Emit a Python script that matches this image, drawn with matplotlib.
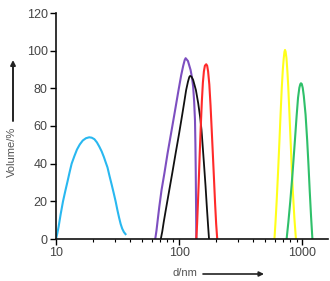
import matplotlib
matplotlib.use('Agg')
import matplotlib.pyplot as plt
from matplotlib.ticker import LogLocator, NullFormatter, FixedLocator

plt.rcParams['font.family'] = ['Liberation Sans', 'DejaVu Sans']

# size distributions: diameter (nm), volume (%)
blue_d = [10, 10.25, 10.5, 10.9, 11.4, 11.9, 12.4, 12.9, 13.4, 14.1, 14.8, 15.6, 16.5, 17.5,
          18.6, 19.5, 20.5, 21.5, 22.5, 23.5, 24.5, 25.4, 26.2, 27.2, 28.3, 29.4, 30.5,
          31.5, 32.5, 33.5, 34.5, 35.6, 36.7]
blue_v = [0, 3, 6.5, 13, 20, 25.5, 30.5, 35.5, 40, 44, 47.5, 50.2, 52.3, 53.5,
          54, 53.8, 53, 51.3, 49, 46.5, 43.5, 40.5, 38, 33.5, 29, 24.5, 20,
          15.5, 11.5, 8, 5.5, 3.7, 2.6]

purple_d = [64, 65.5, 67, 69, 72, 76, 80.6, 86, 92, 98.6, 104, 108, 111, 113, 118, 124, 127,
            130, 132.5, 134.6, 135.7, 136.5, 137.3, 138]
purple_v = [0, 4.5, 10, 17, 26, 35, 45.5, 56, 67, 78.5, 87, 92, 95, 96, 94.5, 89.7, 86,
            81, 73, 63, 50, 36.6, 18, 0]

black_d = [71, 73, 75, 78, 82, 88, 94, 100, 106, 110, 114, 118, 121, 123, 126, 130, 137, 143,
           148, 152, 156, 160, 164, 168, 172, 175]
black_v = [0, 4, 9, 15.5, 23.6, 35, 46, 56, 66, 72.5, 79, 83.5, 86, 86.6, 86.2, 84.5, 79, 72,
           65, 58, 48, 38, 28, 17, 7, 0]

red_d = [138, 140, 142, 144.5, 147, 150, 153, 156, 159, 162, 166, 169, 172, 176, 180, 184,
         188, 192, 196, 200, 204]
red_v = [0, 8, 18, 31, 45, 60, 73, 83, 89, 92, 92.8, 92, 89, 82, 71, 58,
         45, 32, 19, 8, 0]

yellow_d = [595, 607, 620, 636, 653, 668, 682, 696, 708, 717, 725, 733, 745, 758, 770, 787,
            805, 822, 840, 864, 889]
yellow_v = [0, 9, 20, 35, 52, 67, 80, 90, 96, 99.3, 100.4, 99.5, 96, 89, 81, 67,
            52, 38, 25, 11, 0]

green_d = [747, 772, 800, 835, 873, 900, 925, 948, 965, 977, 992, 1010, 1030, 1065, 1097,
           1125, 1150, 1180, 1210]
green_v = [0, 9, 20, 35, 52.6, 65, 75, 80.3, 82.2, 82.7, 82.3, 80.2, 76, 66, 52.6,
           39, 26, 12, 0]

y_ticks = [0, 20, 40, 60, 80, 100, 120]
x_ticks = [10, 100, 1000]

fig = plt.figure(figsize=(3.30, 2.81), dpi=100)
ax = fig.add_axes([56 / 330, 42 / 281, 272 / 330, 226 / 281])

lw = 1.5
ax.plot(blue_d, blue_v, color='#29b8f0', lw=lw)
ax.plot(purple_d, purple_v, color='#7d4fc0', lw=lw)
ax.plot(black_d, black_v, color='#111111', lw=1.3)
ax.plot(red_d, red_v, color='#ff2a2a', lw=lw)
ax.plot(yellow_d, yellow_v, color='#ffff1a', lw=lw)
ax.plot(green_d, green_v, color='#2fc06a', lw=lw)

ax.set_xscale('log')
ax.set_xlim(10, 1620)
ax.set_ylim(0, 120)
ax.xaxis.set_major_locator(FixedLocator(x_ticks))
ax.set_xticklabels([str(t) for t in x_ticks])
ax.xaxis.set_minor_locator(LogLocator(base=10, subs=range(2, 10)))
ax.xaxis.set_minor_formatter(NullFormatter())
ax.set_yticks(y_ticks)

for s in ['top', 'right']:
    ax.spines[s].set_visible(False)
for s in ['left', 'bottom']:
    ax.spines[s].set_linewidth(1.2)
    ax.spines[s].set_color('#111111')

ax.tick_params(axis='both', which='major', direction='out', length=4, width=1,
               labelsize=9, labelcolor='#444444', pad=2)
ax.tick_params(axis='x', which='minor', direction='out', length=2.5, width=0.8)

fig.text(12 / 330, 1 - 152 / 281, 'Volume/%', rotation=90, ha='center', va='center',
         fontsize=8, color='#555555')
fig.text(185 / 330, 1 - 273 / 281, 'd/nm', ha='center', va='center',
         fontsize=8, color='#555555')

ax.annotate('', xy=(13 / 330, 1 - 60 / 281), xytext=(13 / 330, 1 - 121 / 281),
            xycoords='figure fraction',
            arrowprops=dict(arrowstyle='-|>', color='#222222', lw=1.4,
                            mutation_scale=7, shrinkA=0, shrinkB=0))
ax.annotate('', xy=(264 / 330, 1 - 274 / 281), xytext=(203 / 330, 1 - 274 / 281),
            xycoords='figure fraction',
            arrowprops=dict(arrowstyle='-|>', color='#222222', lw=1.2,
                            mutation_scale=7, shrinkA=0, shrinkB=0))

fig.savefig('out.png', dpi=100)
